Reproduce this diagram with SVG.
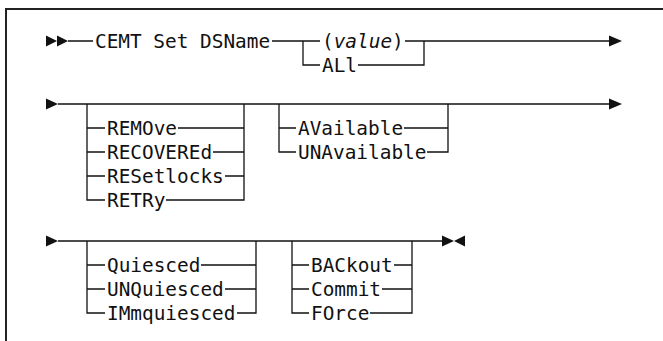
<svg xmlns="http://www.w3.org/2000/svg" width="663" height="341" viewBox="0 0 663 341">
<style>
.t{font-family:"DejaVu Sans Mono","Liberation Mono",monospace;font-size:19.4px;fill:#111}
.i{font-style:italic}
.ln{fill:none;stroke:#111;stroke-width:1.3}
.ah{fill:#111}
</style>
<rect width="663" height="341" fill="#fff"/>
<path d="M6,341 V9 H663" fill="none" stroke="#222" stroke-width="2"/>
<g id="connectors">
<path class="ln" d="M68,41 H93 M272,41 H320 M303,41 V65 H320 M405,41 H610 M358,65 H424 V41"/>
<polygon class="ah" points="46,35.5 57,41 46,46.5"/>
<polygon class="ah" points="57,35.5 68,41 57,46.5"/>
<polygon class="ah" points="609,35.5 622,41 609,46.5"/>
<polygon class="ah" points="46,98.5 58,104 46,109.5"/>
<path class="ln" d="M58,104 H610"/>
<polygon class="ah" points="609,98.5 622,104 609,109.5"/>
<path class="ln" d="M87,104 V200 H105 M87,128 H105 M87,152 H105 M87,176 H105 M178,128 H244 M213,152 H244 M225,176 H244 M166,200 H244 V104"/>
<path class="ln" d="M279,104 V152 H296 M279,128 H296 M404,128 H448 M427,152 H448 V104"/>
<polygon class="ah" points="46,235.5 58,241 46,246.5"/>
<path class="ln" d="M58,241 H443"/>
<path class="ln" d="M87,241 V313 H105 M87,265 H105 M87,289 H105 M201,265 H256 M225,289 H256 M237,313 H256 V241"/>
<path class="ln" d="M292,241 V313 H309 M292,265 H309 M292,289 H309 M394,265 H412 M382,289 H412 M370,313 H412 V241"/>
<polygon class="ah" points="442,235.5 454,241 442,246.5"/>
<polygon class="ah" points="465,235.5 454,241 465,246.5"/>
</g>
<g id="cemt"><text class="t" x="95" y="48">CEMT Set DSName</text></g>
<g id="value"><text class="t" x="322" y="48">(<tspan class="i">value</tspan>)</text></g>
<g id="all"><text class="t" x="322" y="72">ALl</text></g>
<g id="remove"><text class="t" x="107" y="135">REMOve</text></g>
<g id="recovered"><text class="t" x="107" y="159">RECOVEREd</text></g>
<g id="resetlocks"><text class="t" x="107" y="183">RESetlocks</text></g>
<g id="retry"><text class="t" x="107" y="207">RETRy</text></g>
<g id="available"><text class="t" x="298" y="135">AVailable</text></g>
<g id="unavailable"><text class="t" x="298" y="159">UNAvailable</text></g>
<g id="quiesced"><text class="t" x="107" y="272">Quiesced</text></g>
<g id="unquiesced"><text class="t" x="107" y="296">UNQuiesced</text></g>
<g id="immquiesced"><text class="t" x="107" y="320">IMmquiesced</text></g>
<g id="backout"><text class="t" x="311" y="272">BACkout</text></g>
<g id="commit"><text class="t" x="311" y="296">Commit</text></g>
<g id="force"><text class="t" x="311" y="320">FOrce</text></g>
</svg>
